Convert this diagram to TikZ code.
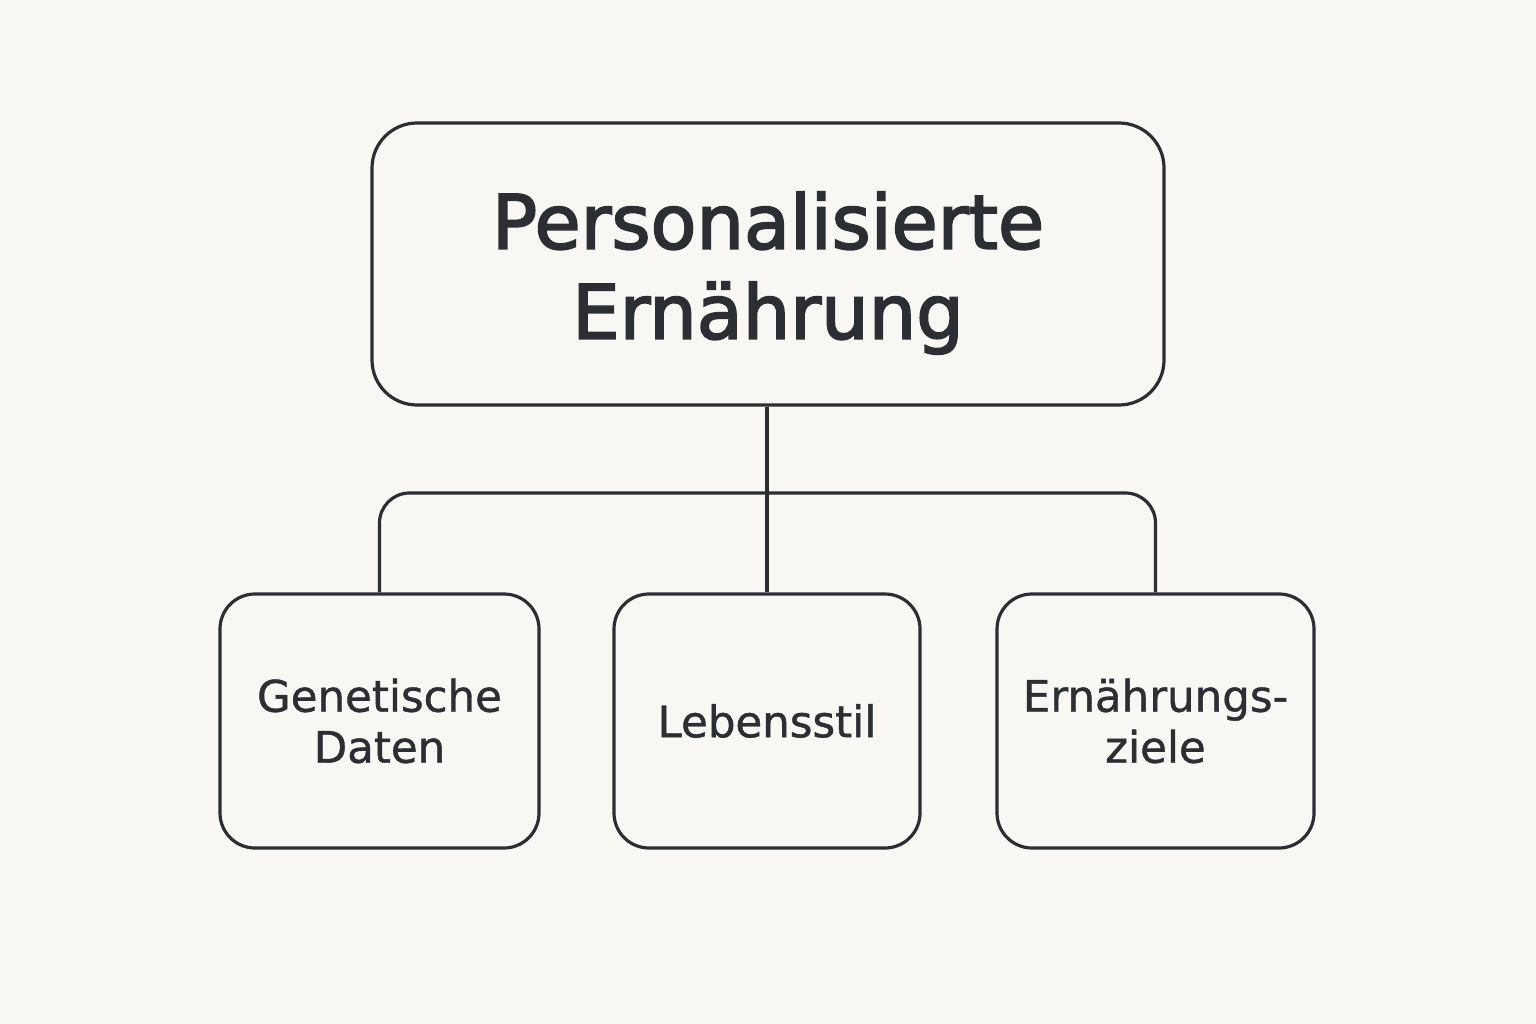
\documentclass[tikz,border=0pt]{standalone}
\usepackage{fontspec}
\setmainfont{DejaVu Sans}
\newfontfamily\heavyfont{DejaVu Sans}[FakeBold=2.5]
\newfontfamily\midfont{DejaVu Sans}[FakeBold=1]
\definecolor{bg}{HTML}{F9F7F4}
\definecolor{ink}{HTML}{2B2F33}
\begin{document}
\begin{tikzpicture}[x=1pt,y=-1pt,
  box/.style={draw=ink,line width=3.2pt,rounded corners=#1,align=center,text=ink,inner sep=0pt},
  small/.style={font=\midfont\fontsize{43.5}{51}\selectfont},
  link/.style={draw=ink,line width=3.2pt}]
\fill[bg] (0,0) rectangle (1536,1024);
\useasboundingbox (0,0) rectangle (1536,1024);
\node[box=45pt,minimum width=792pt,minimum height=282pt] (top) at (768,264) {};
\node[text=ink,align=center,inner sep=0pt,font=\heavyfont\fontsize{75}{90}\selectfont] (toptext) at (768,273) {Personalisierte\\Ernährung};
\node[box=35pt,minimum width=319pt,minimum height=254pt,small] (gen) at (379.5,721) {Genetische\\Daten};
\node[box=35pt,minimum width=306pt,minimum height=254pt,small] (leb) at (767,721) {Lebensstil};
\node[box=35pt,minimum width=317pt,minimum height=254pt,small] (zie) at (1155.5,721) {Ernährungs-\\ziele};
\coordinate (bar) at (767,493);
\draw[link] (top.south -| leb.north) -- (leb.north);
\draw[link,rounded corners=30pt] (gen.north) |- (bar) -| (zie.north);
\end{tikzpicture}
\end{document}
